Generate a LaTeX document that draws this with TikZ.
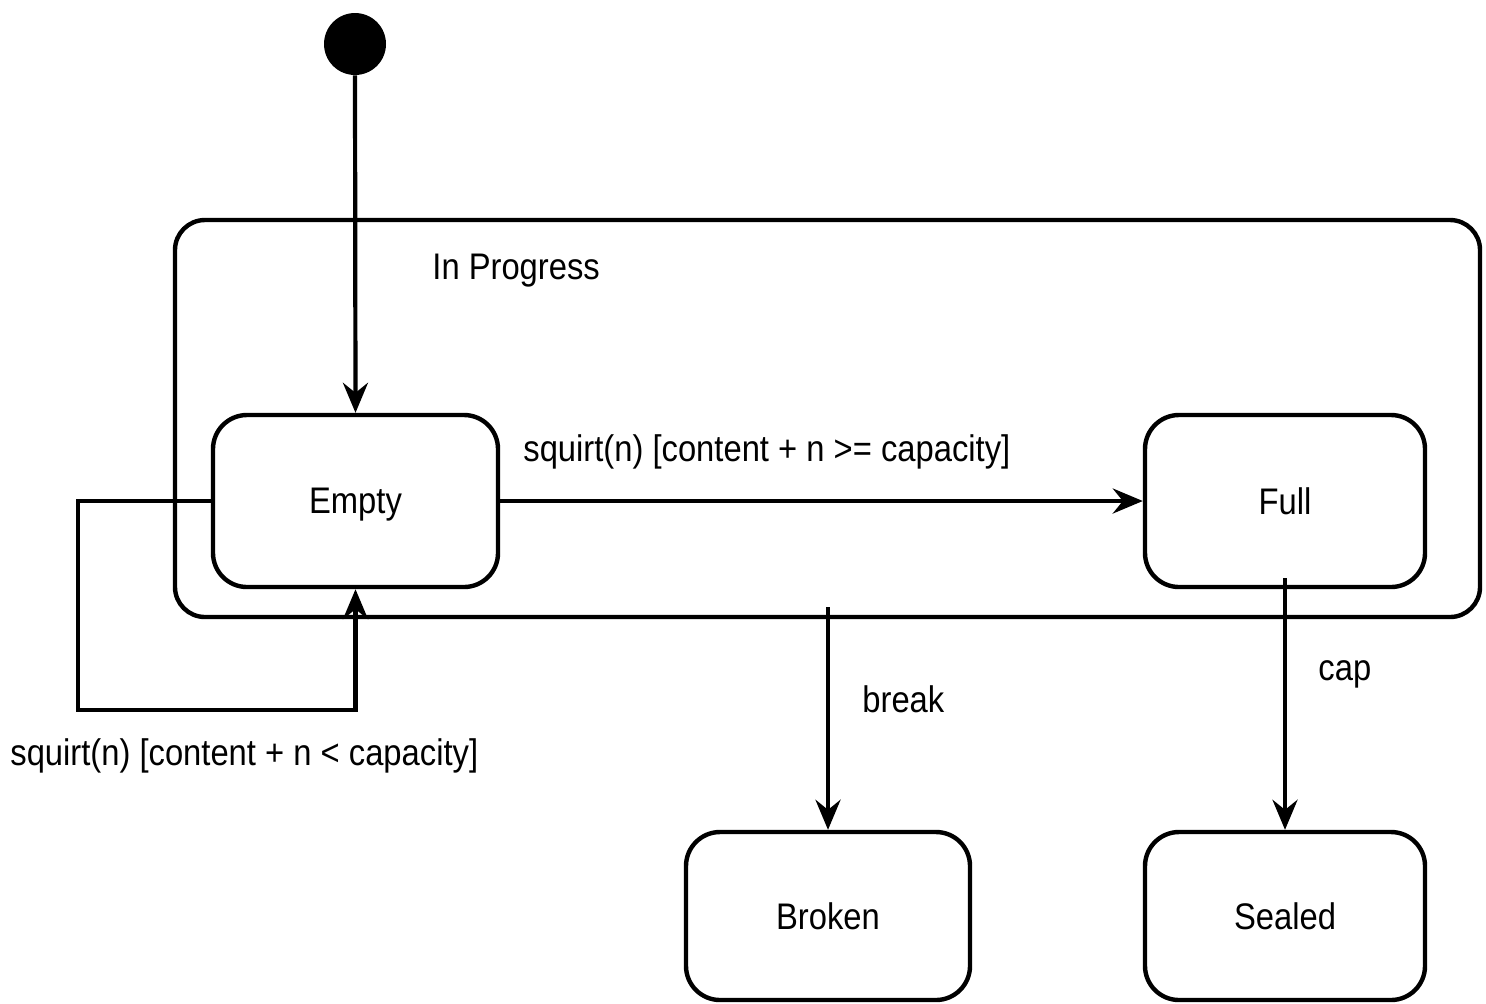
\documentclass[tikz,border=0pt]{standalone}
\usepackage{fontspec}
\setmainfont{Liberation Sans}[FakeStretch=0.885]
\usetikzlibrary{arrows.meta}
\begin{document}
\begin{tikzpicture}[x=0.5pt,y=-0.5pt,
  every node/.style={font=\fontsize{18.5}{22}\selectfont},
  statebox/.style={draw, line width=2.2pt, rounded corners=17pt, inner sep=0pt, text depth=0pt},
  conn/.style={line width=2.1pt, -{Stealth[length=15pt,width=12.5pt,inset=5pt]}},
  lbl/.style={inner sep=0pt, anchor=west, yshift=-2pt}]
\useasboundingbox (0,0) rectangle (1486,1003);
% container
\node[draw, line width=2.2pt, rounded corners=15pt, minimum width=652.5pt, minimum height=198.5pt, inner sep=0pt] (prog) at (827.5,418.5) {};
\node[lbl] (progl) at (432,267) {In Progress};
% initial
\node[circle, fill=black, minimum size=31pt, inner sep=0pt] (init) at (355,44) {};
% states
\node[statebox, minimum width=142.5pt, minimum height=86pt] (empty) at (355.5,501) {Empty};
\node[statebox, minimum width=140pt, minimum height=86pt] (full) at (1285,501) {Full};
\node[statebox, minimum width=142pt, minimum height=84pt] (broken) at (828,916) {Broken};
\node[statebox, minimum width=140pt, minimum height=84pt] (sealed) at (1285,916) {Sealed};
% connectors
\draw[conn] (init.south) -- (empty.north);
\draw[conn] (empty.east) -- (full.west);
\node[lbl] (l1) at (523,448) {squirt(n) [content + n >= capacity]};
\coordinate (c1) at (78,501);
\coordinate (c2) at (78,710);
\coordinate (c3) at (355.5,710);
\draw[conn] (empty.west) -- (c1) -- (c2) -- (c3) -- (empty.south);
\node[lbl] (l2) at (10,752) {squirt(n) [content + n < capacity]};
\coordinate (bk) at (828,607);
\draw[conn] (bk) -- (broken.north);
\node[lbl] (l3) at (862,695) {break};
\coordinate (cp) at (1285,578);
\draw[conn] (cp) -- (sealed.north);
\node[lbl] (l4) at (1318,670) {cap};
\end{tikzpicture}
\end{document}
